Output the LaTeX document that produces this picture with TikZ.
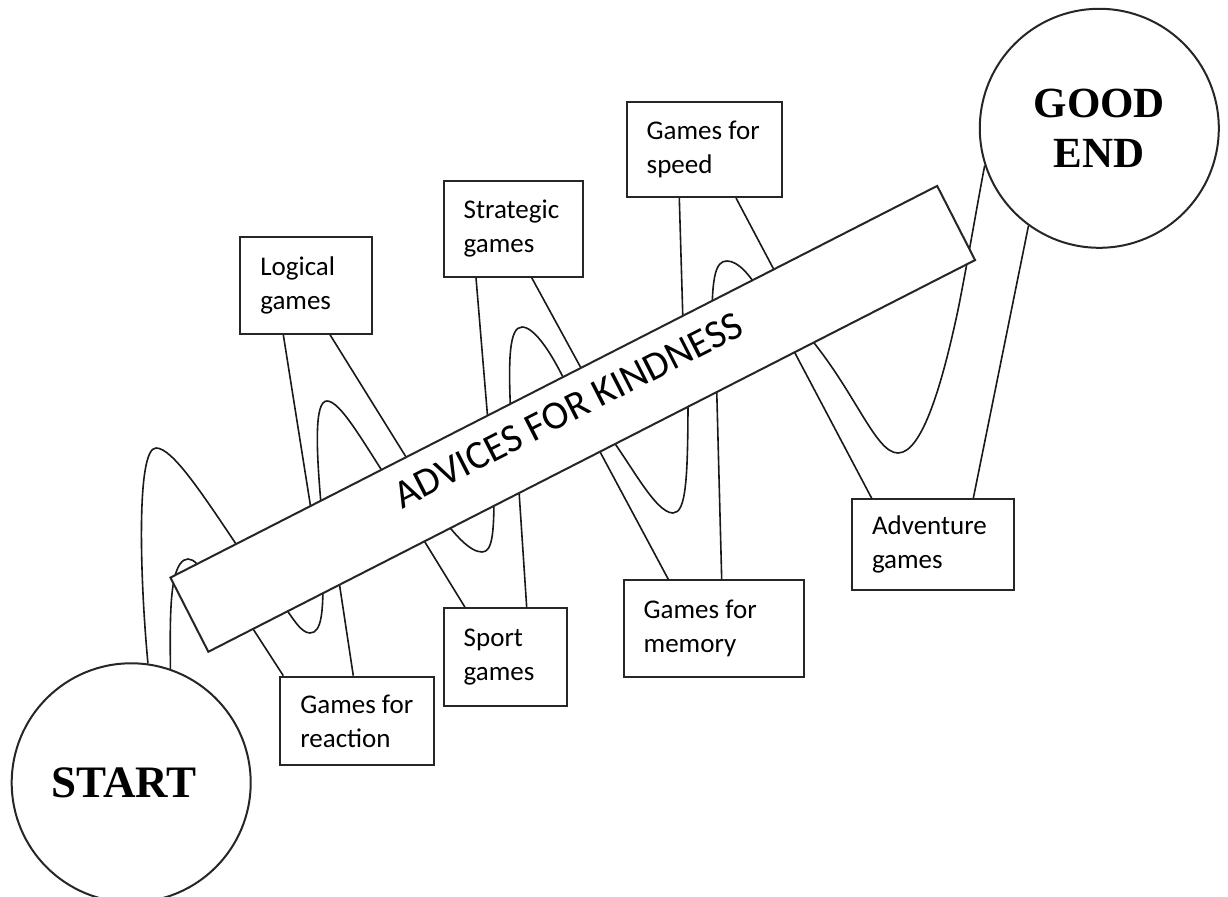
\documentclass[tikz,border=0pt]{standalone}
\usepackage{fontspec}
\setmainfont{Carlito}
\newfontfamily\titlefont{Liberation Serif}
\usetikzlibrary{calc}
\tikzset{
  wire/.style={line width=0.8pt, black!90},
  gbox/.style={draw=black!85, line width=1pt, fill=white, rectangle, anchor=north west,
    inner xsep=10pt, inner ysep=0pt, align=flush left, font=\fontsize{13.5pt}{17pt}\selectfont},
  bigc/.style={draw=black!85, line width=1pt, circle, fill=white, inner sep=0pt,
    minimum size=119.5pt, align=center},
  banner/.style={draw=black!85, line width=1pt, fill=white, rectangle, rotate=27.06,
    minimum width=430.5pt, minimum height=41.65pt, inner sep=0pt, text depth=10pt,
    font=\fontsize{20pt}{24pt}\selectfont}
}
\begin{document}
\begin{tikzpicture}[x=0.5pt,y=-0.5pt]
\useasboundingbox (0,0) rectangle (1228,897);
\fill[white] (0,0) rectangle (1228,897);
\clip (0,0) rectangle (1228,897);

% circles
\node[bigc, font=\titlefont\bfseries\fontsize{22.5pt}{26pt}\selectfont] (start) at (131.2,782.8) {\kern-7pt START};
\node[bigc, font=\titlefont\bfseries\fontsize{21.5pt}{25pt}\selectfont] (good) at (1099.3,128.3) {GOOD\\END};

% boxes
\node[gbox, text width=45.7pt,  minimum height=48.5pt]  (logical)   at (239.3,235.7) {Logical\\games};
\node[gbox, text width=49.8pt,  minimum height=47.85pt] (strategic) at (442.7,180)   {Strategic\\games};
\node[gbox, text width=57.65pt, minimum height=47.5pt]  (speed)     at (625.7,101)   {Games~for\\speed};
\node[gbox, text width=56.7pt,  minimum height=44.15pt] (reaction)  at (279.3,675.7) {Games~for\\reaction};
\node[gbox, text width=41.5pt,  minimum height=48.85pt] (sport)     at (442.7,607.3) {Sport\\games};
\node[gbox, text width=70.3pt,  minimum height=48.2pt]  (memory)    at (622.7,579.3) {Games~for\\memory};
\node[gbox, text width=61.15pt, minimum height=45.5pt]  (adventure) at (851,498.3)   {Adventure\\games};

% zigzag ribbon through the boxes
\draw[wire] (start.82) .. controls (140,580) and (136,448) .. (156,448)
  .. controls (172,448) and (200,490) .. (242,553) -- (249.6,623.6)
  -- ($(reaction.north west)+(4,0)$);
\draw[wire] ($(reaction.north west)+(74,0)$) -- (338.5,578) -- (311.6,513)
  -- ($(logical.south west)+(44,0)$);
\draw[wire] ($(logical.south west)+(90.7,0)$) -- (411,465) -- (421.5,536.5)
  -- ($(sport.north west)+(22.3,0)$);
\draw[wire] ($(sport.north west)+(84,0)$) -- (518.6,485) -- (488.1,423)
  -- ($(strategic.south west)+(33.3,0)$);
\draw[wire] ($(strategic.south west)+(89,0)$) -- (584.7,374.8) -- (597,446.2)
  -- ($(memory.north west)+(45.6,0)$);
\draw[wire] ($(memory.north west)+(99,0)$) -- (716.5,382) -- (683,323)
  -- ($(speed.south west)+(53.6,0)$);
\draw[wire] ($(speed.south west)+(110.3,0)$) -- (777.9,277.2) -- (790.3,344.2)
  -- ($(adventure.north west)+(20.7,0)$);
\draw[wire] ($(adventure.north west)+(122.3,0)$) -- (good.234.7);

% spring from START to GOOD END
\draw[wire] (start.71) .. controls (170,630) and (170,600) .. (174,580)
  .. controls (177,566) and (182,559) .. (188,559)
  .. controls (194,559) and (200,566) .. (204,576)
  -- (278,598)
  .. controls (292,616) and (300,633) .. (310,633)
  .. controls (322,633) and (323,610) .. (323,580)
  -- (322,515)
  .. controls (316,450) and (314,401) .. (327,401)
  .. controls (340,401) and (362,440) .. (388,480)
  -- (440,515)
  .. controls (455,535) and (470,552) .. (482,552)
  .. controls (492,552) and (494,535) .. (494,495)
  -- (511,420)
  .. controls (508,360) and (509,327) .. (522,327)
  .. controls (534,327) and (552,352) .. (570,392)
  -- (605,430)
  .. controls (630,462) and (655,513) .. (673,513)
  .. controls (686,513) and (688,480) .. (688,395)
  -- (712,320)
  .. controls (712,275) and (716,261) .. (727,261)
  .. controls (738,261) and (750,275) .. (760,292)
  -- (805,332)
  .. controls (855,390) and (875,453) .. (898,453)
  .. controls (922,453) and (942,385) .. (958,310)
  .. controls (968,260) and (978,200) .. (good.198);

% banner on top
\node[banner] (advice) at (572.75,418.85) {ADVICES FOR KINDNESS};
\end{tikzpicture}
\end{document}
